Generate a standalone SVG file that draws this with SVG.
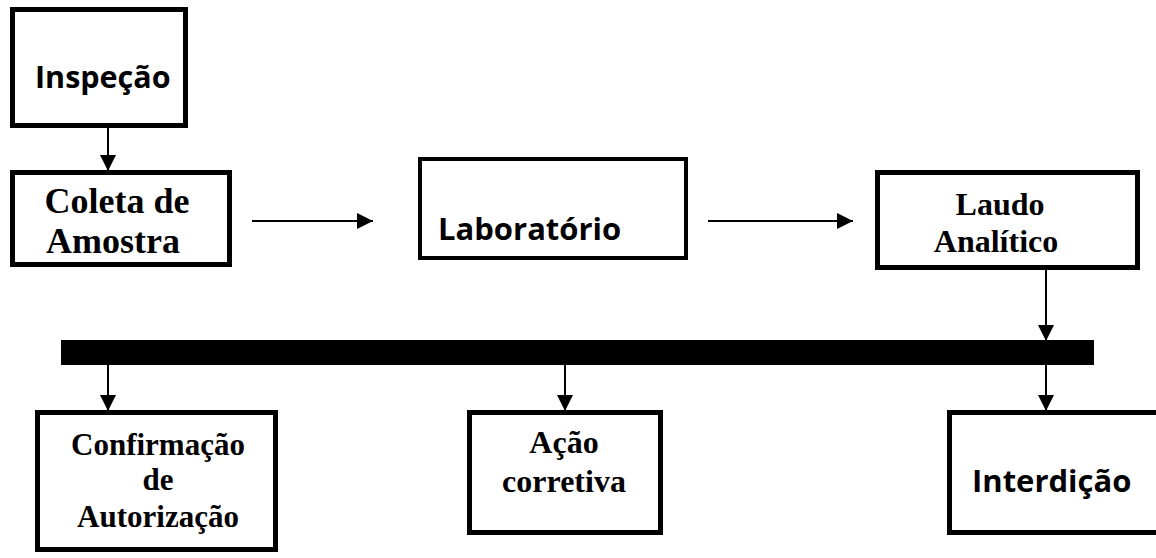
<svg xmlns="http://www.w3.org/2000/svg" width="1156" height="558" viewBox="0 0 1156 558">
<style>
.box{fill:#fff;stroke:#000;stroke-width:5}
.sans{font-family:"Open Sans","Liberation Sans",sans-serif;font-weight:700;fill:#000}
.serif{font-family:"Liberation Serif","Times New Roman",serif;font-weight:700;fill:#000;text-anchor:middle}
.conn{stroke:#000;stroke-width:2;fill:none;marker-end:url(#ah)}
</style>
<defs>
<marker id="ah" markerUnits="userSpaceOnUse" markerWidth="16" markerHeight="16" viewBox="0 0 16 16" refX="16" refY="8" orient="auto">
<path d="M0,0 L16,8 L0,16 Z" fill="#000"/>
</marker>
</defs>
<rect id="bar" x="61" y="340" width="1033" height="25" fill="#000"/>
<g id="connectors">
<line class="conn" x1="108" y1="128" x2="108" y2="171"/>
<line class="conn" x1="252" y1="221" x2="373" y2="221"/>
<line class="conn" x1="708" y1="221" x2="853" y2="221"/>
<line class="conn" x1="1046" y1="270" x2="1046" y2="341"/>
<line class="conn" x1="108" y1="365" x2="108" y2="411"/>
<line class="conn" x1="565" y1="365" x2="565" y2="411"/>
<line class="conn" x1="1046" y1="365" x2="1046" y2="411"/>
</g>
<g id="inspecao">
<rect class="box" x="12.5" y="9.5" width="173" height="116"/>
<text class="sans" x="35" y="88" font-size="30.5">Inspeção</text>
</g>
<g id="coleta">
<rect class="box" x="12.5" y="172.5" width="217" height="92"/>
<text class="serif" x="117" y="213" font-size="36">Coleta de</text>
<text class="serif" x="113" y="253" font-size="36">Amostra</text>
</g>
<g id="laboratorio">
<rect class="box" x="420" y="159" width="266" height="99" style="stroke-width:4"/>
<text class="sans" x="438" y="240" font-size="31">Laboratório</text>
</g>
<g id="laudo">
<rect class="box" x="877.5" y="172.5" width="260" height="95"/>
<text class="serif" x="1000" y="215" font-size="32">Laudo</text>
<text class="serif" x="996" y="252" font-size="32">Analítico</text>
</g>
<g id="confirmacao">
<rect class="box" x="37.5" y="412.5" width="238" height="137"/>
<text class="serif" x="158" y="455" font-size="31">Confirmação</text>
<text class="serif" x="158" y="490" font-size="31">de</text>
<text class="serif" x="158" y="527" font-size="31">Autorização</text>
</g>
<g id="acao">
<rect class="box" x="469.5" y="412.5" width="191" height="120"/>
<text class="serif" x="564" y="453" font-size="32">Ação</text>
<text class="serif" x="564" y="492" font-size="32">corretiva</text>
</g>
<g id="interdicao">
<rect class="box" x="949.5" y="412.5" width="220" height="120"/>
<text class="sans" x="972" y="492" font-size="31">Interdição</text>
</g>
</svg>
